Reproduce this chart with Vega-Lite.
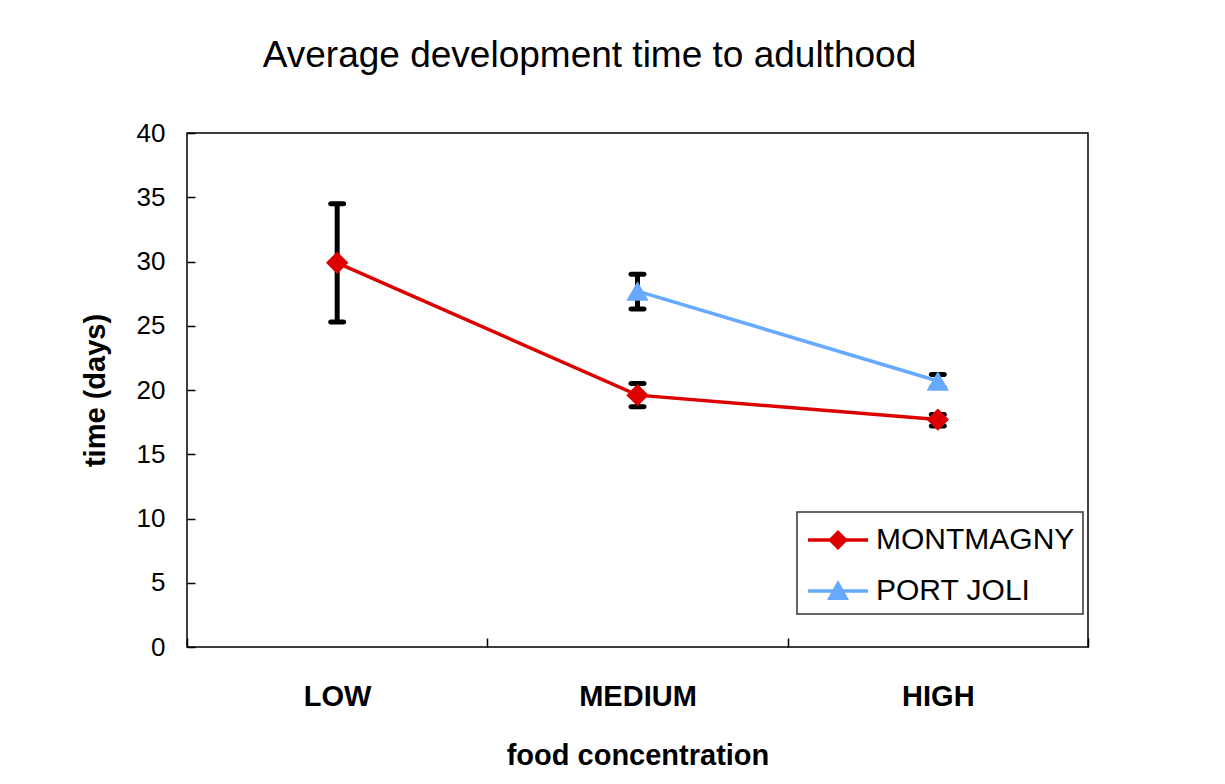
{
  "$schema": "https://vega.github.io/schema/vega-lite/v6.json",
  "width": 901,
  "height": 514,
  "autosize": {"type": "none"},
  "padding": {"left": 187, "top": 133, "right": 137, "bottom": 137},
  "background": "white",
  "title": {
    "text": "Average development time to adulthood",
    "fontSize": 37,
    "fontWeight": "normal",
    "font": "Liberation Sans",
    "color": "black",
    "anchor": "middle",
    "dx": -48,
    "offset": 45
  },
  "data": {
    "values": [
      {"conc": "LOW", "site": "MONTMAGNY", "mean": 29.9, "lo": 25.3, "hi": 34.5},
      {"conc": "MEDIUM", "site": "MONTMAGNY", "mean": 19.6, "lo": 18.7, "hi": 20.5},
      {"conc": "HIGH", "site": "MONTMAGNY", "mean": 17.7, "lo": 17.2, "hi": 18.1},
      {"conc": "MEDIUM", "site": "PORT JOLI", "mean": 27.7, "lo": 26.3, "hi": 29.0},
      {"conc": "HIGH", "site": "PORT JOLI", "mean": 20.7, "lo": 20.2, "hi": 21.2}
    ]
  },
  "encoding": {
    "x": {
      "field": "conc",
      "type": "ordinal",
      "sort": ["LOW", "MEDIUM", "HIGH"],
      "scale": {"type": "band", "paddingInner": 0, "paddingOuter": 0},
      "axis": {
        "title": "food concentration",
        "titleFont": "Liberation Sans",
        "titleFontSize": 29,
        "titleFontWeight": "bold",
        "titleColor": "black",
        "titlePadding": 30,
        "labelFont": "Liberation Sans",
        "labelFontSize": 29,
        "labelFontWeight": "bold",
        "labelColor": "black",
        "labelAngle": 0,
        "labelPadding": 44,
        "domain": false,
        "tickBand": "extent",
        "tickSize": -9,
        "tickColor": "black",
        "tickWidth": 1.5
      }
    }
  },
  "layer": [
    {
      "mark": {"type": "rule", "color": "black", "strokeWidth": 5},
      "encoding": {
        "y": {"field": "lo", "type": "quantitative"},
        "y2": {"field": "hi"}
      }
    },
    {
      "mark": {"type": "tick", "color": "black", "size": 18, "thickness": 5, "cornerRadius": 2.5, "opacity": 1},
      "encoding": {"y": {"field": "lo", "type": "quantitative"}}
    },
    {
      "mark": {"type": "tick", "color": "black", "size": 18, "thickness": 5, "cornerRadius": 2.5, "opacity": 1},
      "encoding": {"y": {"field": "hi", "type": "quantitative"}}
    },
    {
      "mark": {"type": "line", "strokeWidth": 3.5},
      "encoding": {
        "y": {"field": "mean", "type": "quantitative"},
        "color": {"field": "site", "type": "nominal"}
      }
    },
    {
      "transform": [{"filter": "datum.site === 'MONTMAGNY'"}],
      "mark": {"type": "point", "filled": true, "opacity": 1, "size": 500, "shape": "diamond"},
      "encoding": {
        "y": {"field": "mean", "type": "quantitative"},
        "color": {"field": "site", "type": "nominal"}
      }
    },
    {
      "transform": [{"filter": "datum.site === 'PORT JOLI'"}],
      "mark": {"type": "point", "filled": true, "opacity": 1, "size": 500, "shape": "triangle-up"},
      "encoding": {
        "y": {
          "field": "mean",
          "type": "quantitative",
          "scale": {"domain": [0, 40], "nice": false},
          "axis": {
            "title": "time (days)",
            "titleFont": "Liberation Sans",
            "titleFontSize": 29,
            "titleFontWeight": "bold",
            "titleColor": "black",
            "titlePadding": 26,
            "values": [0, 5, 10, 15, 20, 25, 30, 35, 40],
            "labelFont": "Liberation Sans",
            "labelFontSize": 26,
            "labelColor": "black",
            "labelPadding": 30,
            "grid": false,
            "domain": false,
            "tickSize": -8,
            "tickColor": "black",
            "tickWidth": 1.5
          }
        },
        "color": {
          "field": "site",
          "type": "nominal",
          "scale": {"domain": ["MONTMAGNY", "PORT JOLI"], "range": ["#DD0000", "#66AAFF"]},
          "legend": {
            "title": null,
            "orient": "none",
            "legendX": 610,
            "legendY": 379,
            "padding": 8,
            "strokeColor": "#333333",
            "fillColor": "white",
            "symbolSize": 1600,
            "symbolStrokeWidth": 0,
            "symbolOpacity": 1,
            "labelFont": "Liberation Sans",
            "labelFontSize": 30,
            "labelColor": "black",
            "labelOffset": 31,
            "rowPadding": 16,
            "labelLimit": 400,
            "encode": {
              "legend": {
                "update": {"strokeWidth": {"value": 1.5}}
              },
              "symbols": {
                "update": {
                  "shape": {"signal": "datum.value === 'MONTMAGNY' ? 'M-0.85,-0.09H2.15V0.09H-0.85Z M0.65,-0.5L1.15,0L0.65,0.5L0.15,0Z' : 'M-0.85,-0.09H2.15V0.09H-0.85Z M0.65,-0.55L1.2,0.45L0.1,0.45Z'"},
                  "fill": {"signal": "datum.value === 'MONTMAGNY' ? '#DD0000' : '#66AAFF'"},
                  "strokeWidth": {"value": 0}
                }
              }
            }
          }
        }
      }
    }
  ],
  "config": {
    "view": {"stroke": "black", "strokeWidth": 1.5},
    "font": "Liberation Sans"
  }
}
